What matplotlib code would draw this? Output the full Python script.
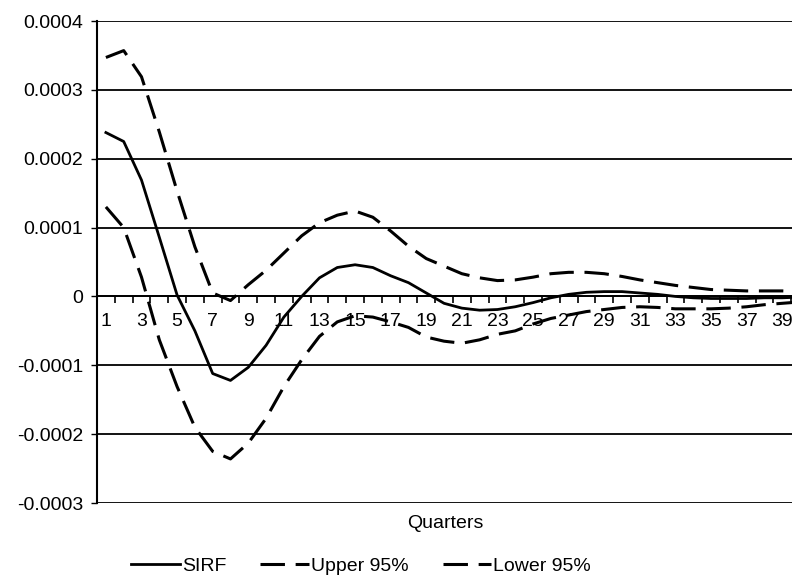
import numpy as np
import matplotlib
matplotlib.use('Agg')
import matplotlib.pyplot as plt
from matplotlib.ticker import FixedLocator, FixedFormatter, NullFormatter

plt.rcParams['font.family'] = ['Liberation Sans', 'DejaVu Sans']

quarters = list(range(1, 41))

# values in units of 1e-4
sirf = [2.38, 2.25, 1.69, 0.86, 0.02, -0.5, -1.12, -1.22, -1.03, -0.71,
        -0.3, 0.0, 0.27, 0.42, 0.46, 0.42, 0.3, 0.2, 0.05, -0.1,
        -0.17, -0.2, -0.19, -0.15, -0.09, -0.02, 0.03, 0.06, 0.07, 0.07,
        0.05, 0.03, 0.0, -0.02, -0.03, -0.03, -0.03, -0.02, -0.02, -0.01]
upper = [3.47, 3.57, 3.19, 2.39, 1.53, 0.72, 0.05, -0.06, 0.17, 0.38,
         0.63, 0.88, 1.07, 1.18, 1.24, 1.15, 0.95, 0.73, 0.55, 0.44,
         0.33, 0.27, 0.23, 0.24, 0.28, 0.33, 0.35, 0.35, 0.33, 0.29,
         0.24, 0.2, 0.16, 0.13, 0.1, 0.09, 0.08, 0.08, 0.08, 0.07]
lower = [1.3, 1.0, 0.28, -0.63, -1.31, -1.9, -2.25, -2.36, -2.13, -1.77,
         -1.31, -0.92, -0.58, -0.37, -0.28, -0.3, -0.37, -0.45, -0.59, -0.65,
         -0.68, -0.63, -0.55, -0.5, -0.4, -0.32, -0.27, -0.22, -0.19, -0.16,
         -0.15, -0.16, -0.18, -0.18, -0.18, -0.17, -0.15, -0.12, -0.1, -0.08]

y_ticks = [-0.0003, -0.0002, -0.0001, 0, 0.0001, 0.0002, 0.0003, 0.0004]
y_labels = ['-0.0003', '-0.0002', '-0.0001', '0', '0.0001', '0.0002', '0.0003', '0.0004']

sirf = np.array(sirf) * 1e-4
upper = np.array(upper) * 1e-4
lower = np.array(lower) * 1e-4

fig = plt.figure(figsize=(7.92, 5.78), dpi=100)
ax = fig.add_axes([97/792, 1 - 503/578, 1 - 97/792, (503 - 21)/578])

dash = (0, (8, 3.5))
ax.plot(quarters, sirf, color='black', lw=2.0, label='SIRF')
ax.plot(quarters, upper, color='black', lw=2.2, linestyle=dash, label='Upper 95%')
ax.plot(quarters, lower, color='black', lw=2.2, linestyle=dash, label='Lower 95%')

ax.set_xlim(0.5, 39.55)
ax.set_ylim(-0.0003, 0.0004)

for v in y_ticks:
    ax.axhline(v, color='black', lw=1.3, zorder=0)

ax.yaxis.set_major_locator(FixedLocator(y_ticks))
ax.yaxis.set_major_formatter(FixedFormatter(y_labels))
ax.tick_params(axis='y', direction='out', length=4, width=1, pad=6, labelsize=14)

ax.spines['bottom'].set_position(('data', 0))
ax.spines['bottom'].set_linewidth(1.3)
ax.spines['left'].set_linewidth(1.5)
ax.spines['top'].set_visible(False)
ax.spines['right'].set_visible(False)

ax.xaxis.set_major_locator(FixedLocator(quarters[::2]))
ax.xaxis.set_major_formatter(FixedFormatter([str(q) for q in quarters[::2]]))
ax.xaxis.set_minor_locator(FixedLocator(np.arange(1.5, 40, 1)))
ax.xaxis.set_minor_formatter(NullFormatter())
ax.tick_params(axis='x', which='major', length=0, pad=12, labelsize=14)
ax.tick_params(axis='x', which='minor', direction='out', length=5, width=1.2)

fig.text(445/792, 1 - 523/578, 'Quarters', ha='center', va='center', fontsize=14)

fig.legend(loc='center', bbox_to_anchor=(0.456, 1 - 566/578), ncol=3, frameon=False,
           fontsize=14, handlelength=2.5, handletextpad=0.1, columnspacing=1.75)

fig.savefig('out.png', dpi=100)
